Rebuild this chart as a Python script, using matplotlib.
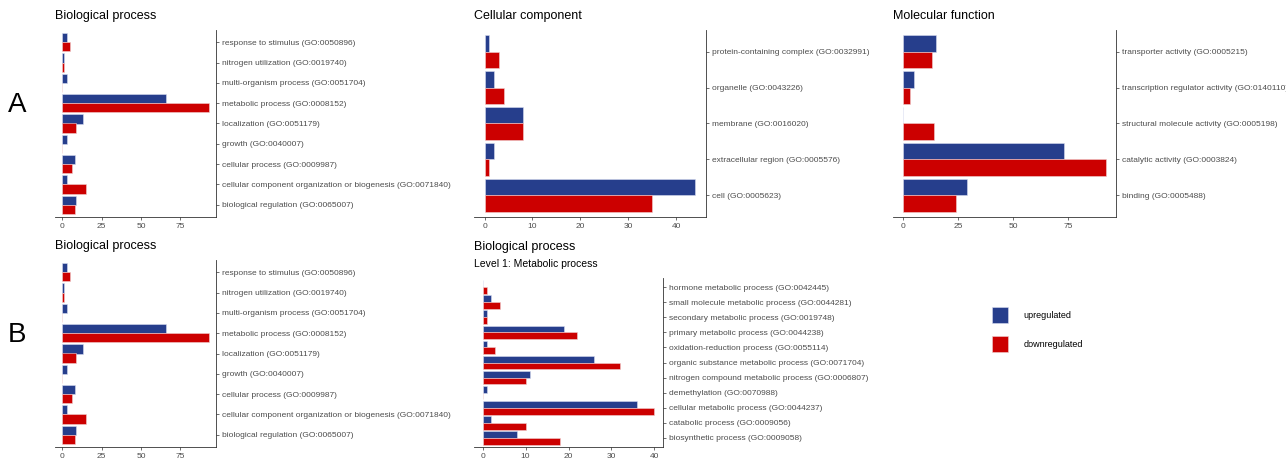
import numpy as np
import matplotlib
matplotlib.use("Agg")
import matplotlib.pyplot as plt
from matplotlib.patches import Patch

plt.rcParams['font.family'] = ['Liberation Sans', 'DejaVu Sans']

# ---- data (rows listed bottom to top) ----
bp_terms = ["biological regulation (GO:0065007)",
            "cellular component organization or biogenesis (GO:0071840)",
            "cellular process (GO:0009987)",
            "growth (GO:0040007)",
            "localization (GO:0051179)",
            "metabolic process (GO:0008152)",
            "multi-organism process (GO:0051704)",
            "nitrogen utilization (GO:0019740)",
            "response to stimulus (GO:0050896)"]
bp_up = [9, 3, 8, 3, 13, 66, 3, 1, 3]
bp_down = [8, 15, 6, 0, 9, 93, 0, 1, 5]

cc_terms = ["cell (GO:0005623)",
            "extracellular region (GO:0005576)",
            "membrane (GO:0016020)",
            "organelle (GO:0043226)",
            "protein-containing complex (GO:0032991)"]
cc_up = [44, 2, 8, 2, 1]
cc_down = [35, 1, 8, 4, 3]

mf_terms = ["binding (GO:0005488)",
            "catalytic activity (GO:0003824)",
            "structural molecule activity (GO:0005198)",
            "transcription regulator activity (GO:0140110)",
            "transporter activity (GO:0005215)"]
mf_up = [29, 73, 0, 5, 15]
mf_down = [24, 92, 14, 3, 13]

mp_terms = ["biosynthetic process (GO:0009058)",
            "catabolic process (GO:0009056)",
            "cellular metabolic process (GO:0044237)",
            "demethylation (GO:0070988)",
            "nitrogen compound metabolic process (GO:0006807)",
            "organic substance metabolic process (GO:0071704)",
            "oxidation-reduction process (GO:0055114)",
            "primary metabolic process (GO:0044238)",
            "secondary metabolic process (GO:0019748)",
            "small molecule metabolic process (GO:0044281)",
            "hormone metabolic process (GO:0042445)"]
mp_up = [8, 2, 36, 1, 11, 26, 1, 19, 1, 2, 0]
mp_down = [18, 10, 40, 0, 10, 32, 3, 22, 1, 4, 1]

BLUE = "#263e8c"
RED = "#cc0000"
W, H = 1286, 458


def panel(box, terms, up, down, xticks, title, subtitle=None):
    x0, y0, x1, y1 = box
    ax = fig.add_axes([x0 / W, 1 - y1 / H, (x1 - x0) / W, (y1 - y0) / H])
    y = np.arange(len(terms))
    ax.barh(y + 0.225, up, height=0.45, color=BLUE, edgecolor="#d8dcf0", linewidth=0.4)
    ax.barh(y - 0.225, down, height=0.45, color=RED, edgecolor="#f0d0d0", linewidth=0.4)
    top = max(max(up), max(down))
    ax.set_xlim(-0.05 * top, 1.05 * top)
    ax.set_ylim(-0.6, len(terms) - 0.4)
    ax.set_yticks(y)
    ax.set_yticklabels(terms)
    ax.yaxis.tick_right()
    ax.set_xticks(xticks)
    for s in ("left", "top"):
        ax.spines[s].set_visible(False)
    for s in ("right", "bottom"):
        ax.spines[s].set_color("#333333")
        ax.spines[s].set_linewidth(0.6)
    ax.tick_params(axis="both", colors="#333333", labelcolor="#4d4d4d",
                   labelsize=6, length=2.5, width=0.5, pad=1.5)
    h = y1 - y0
    if subtitle is None:
        ax.text(0, 1.0 + 10.5 / h, title, transform=ax.transAxes,
                fontsize=9, color="black", va="baseline", ha="left")
    else:
        ax.text(0, 1.0 + 28 / h, title, transform=ax.transAxes,
                fontsize=9, color="black", va="baseline", ha="left")
        ax.text(0, 1.0 + 11 / h, subtitle, transform=ax.transAxes,
                fontsize=7.5, color="black", va="baseline", ha="left")
    return ax


fig = plt.figure(figsize=(W / 100, H / 100), dpi=100)

panel((55, 30, 216, 217), bp_terms, bp_up, bp_down, [0, 25, 50, 75], "Biological process")
panel((474, 30, 706, 217), cc_terms, cc_up, cc_down, [0, 10, 20, 30, 40], "Cellular component")
panel((893, 30, 1116, 217), mf_terms, mf_up, mf_down, [0, 25, 50, 75], "Molecular function")
panel((55, 260, 216, 447), bp_terms, bp_up, bp_down, [0, 25, 50, 75], "Biological process")
panel((474, 278, 663, 447), mp_terms, mp_up, mp_down, [0, 10, 20, 30, 40],
      "Biological process", "Level 1: Metabolic process")

fig.text(8 / W, 1 - 112 / H, "A", fontsize=20, va="baseline", ha="left")
fig.text(8 / W, 1 - 342 / H, "B", fontsize=20, va="baseline", ha="left")

handles = [Patch(facecolor=BLUE, edgecolor="#d8dcf0", linewidth=0.4),
           Patch(facecolor=RED, edgecolor="#f0d0d0", linewidth=0.4)]
fig.legend(handles, ["upregulated", "downregulated"], loc="upper left",
           bbox_to_anchor=(984 / W, 1 - 299 / H), frameon=False, fontsize=6.5,
           handlelength=1.8, handleheight=2.3, labelspacing=1.5, handletextpad=1.7)

fig.savefig("out.png", dpi=100)
